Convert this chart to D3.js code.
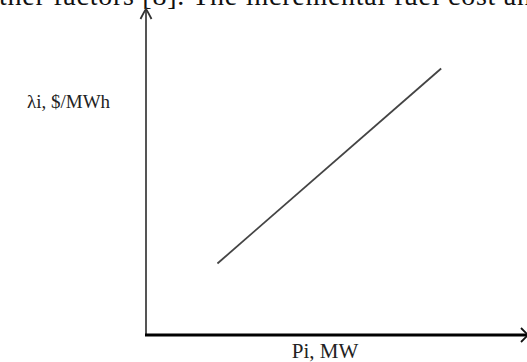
<!DOCTYPE html>
<html>
<head>
<meta charset="utf-8">
<script src="https://cdn.jsdelivr.net/npm/d3@7"></script>
<style>
  html, body { margin: 0; padding: 0; background: #fff; overflow: hidden; }
  svg { display: block; }
</style>
</head>
<body>
<script>
// Data: incremental cost line (Pi, MW vs λi, $/MWh), arbitrary units
const powerMW = [19, 78.5];
const lambdaCost = [22, 82];
const xLabel = "Pi, MW";
const yLabel = "λi, $/MWh";
const headerText = "ther factors [8]. The incremental fuel cost an";

const W = 527, H = 362;
const svg = d3.select("body").append("svg").attr("width", W).attr("height", H);

const x0 = 146, y0 = 335;
const x = d3.scaleLinear().domain([0, 100]).range([x0, 522]);
const y = d3.scaleLinear().domain([0, 100]).range([y0, 10]);

// header text (body text of the page, cut at the top edge as in the source)
svg.append("text")
  .attr("x", -1).attr("y", 5)
  .attr("font-family", "Liberation Serif, Times New Roman, serif")
  .attr("font-size", 28)
  .attr("textLength", 532)
  .attr("lengthAdjust", "spacing")
  .attr("fill", "#111")
  .text(headerText);

// y axis
svg.append("line")
  .attr("x1", x0).attr("y1", y0).attr("x2", x0).attr("y2", y(100) - 0.5)
  .attr("stroke", "#555").attr("stroke-width", 2);
svg.append("path")
  .attr("d", `M${x0 - 5.5},${y(100) + 9} Q${x0 - 2},${y(100) + 2} ${x0},${y(100) - 1} Q${x0 + 2},${y(100) + 2} ${x0 + 5.5},${y(100) + 9}`)
  .attr("fill", "none").attr("stroke", "#333").attr("stroke-width", 1.8);

// x axis
svg.append("line")
  .attr("x1", x0 - 1).attr("y1", y0).attr("x2", W + 2).attr("y2", y0)
  .attr("stroke", "#000").attr("stroke-width", 3);
svg.append("path")
  .attr("d", `M${W - 6},${y0 - 7} L${W + 1},${y0} L${W - 6},${y0 + 7}`)
  .attr("fill", "none").attr("stroke", "#111").attr("stroke-width", 1.8);

// cost line
const line = d3.line().x(d => x(d[0])).y(d => y(d[1]));
svg.append("path")
  .datum(d3.zip(powerMW, lambdaCost))
  .attr("d", line)
  .attr("fill", "none").attr("stroke", "#444").attr("stroke-width", 1.8);

// labels
svg.append("text")
  .attr("x", 27).attr("y", 108)
  .attr("font-family", "Liberation Serif, Times New Roman, serif")
  .attr("font-size", 19)
  .attr("fill", "#222")
  .text(yLabel);

svg.append("text")
  .attr("x", 325).attr("y", 358)
  .attr("text-anchor", "middle")
  .attr("font-family", "Liberation Serif, Times New Roman, serif")
  .attr("font-size", 21)
  .attr("fill", "#222")
  .text(xLabel);
</script>
</body>
</html>
